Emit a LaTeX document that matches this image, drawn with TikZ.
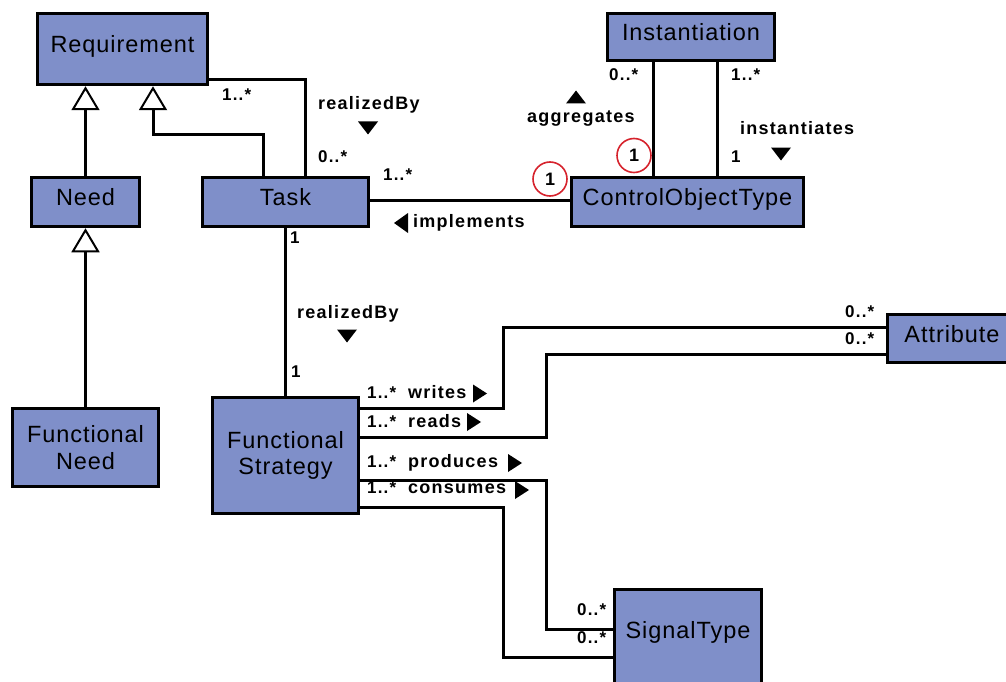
\documentclass[tikz,border=0pt]{standalone}
\usepackage{fontspec}
\setmainfont{Liberation Sans}
\newfontfamily\boxfont[LetterSpace=4]{Liberation Sans}
\newfontfamily\labfont[LetterSpace=7]{Liberation Sans}
\usetikzlibrary{arrows.meta}
\definecolor{classfill}{RGB}{127,143,201}
\definecolor{markred}{RGB}{214,35,45}
\tikzset{
  cls/.style={draw=black, fill=classfill, line width=3.5pt, inner sep=0pt,
    align=center, font=\boxfont\fontsize{23.5}{26.7}\selectfont},
  one/.style={text height=12pt, text depth=5pt},
  ln/.style={line width=3pt, line join=miter},
  gen/.style={-{Triangle[open, length=24pt, width=28pt, line width=2pt]}},
  lab/.style={anchor=base west, inner sep=0pt,
    font=\labfont\bfseries\fontsize{18}{20}\selectfont},
  mult/.style={anchor=base west, inner sep=0pt,
    font=\labfont\bfseries\fontsize{17}{19}\selectfont},
  ring/.style={circle, draw=markred, line width=1.6pt, minimum size=34pt,
    inner sep=0pt, font=\labfont\bfseries\fontsize{18}{20}\selectfont},
  mdown/.pic={\fill (-10,-6.5) -- (10,-6.5) -- (0,6.5) -- cycle;},
  mup/.pic={\fill (-10,6.5) -- (10,6.5) -- (0,-6.5) -- cycle;},
  mright/.pic={\fill (-7,-9) -- (-7,9) -- (7,0) -- cycle;},
  mleft/.pic={\fill (7,-10) -- (7,10) -- (-7,0) -- cycle;},
}
\begin{document}
\begin{tikzpicture}[x=1pt, y=-1pt]
\useasboundingbox (0,0) rectangle (1006,682);
\clip (0,0) rectangle (1006,682);

% classes
\node[cls, one, minimum width=170pt, minimum height=71pt] (req) at (122.5,49) {Requirement};
\node[cls, one, minimum width=108pt, minimum height=49pt] (need) at (85.5,202) {Need};
\node[cls, one, minimum width=166pt, minimum height=49pt] (task) at (285.5,202) {Task};
\node[cls, minimum width=146pt, minimum height=78pt] (fn) at (85.5,447.5) {Functional\\Need};
\node[cls, one, minimum width=167pt, minimum height=47pt] (inst) at (691,37) {Instantiation};
\node[cls, one, minimum width=232pt, minimum height=49pt] (cot) at (687.5,202) {ControlObjectType};
\node[cls, minimum width=146pt, minimum height=116pt] (fs) at (285.5,455.5) {Functional\\Strategy};
\node[cls, one, minimum width=129pt, minimum height=48pt] (attr) at (952,338.5) {Attribute};
\node[cls, anchor=north, minimum width=147pt, minimum height=140pt] (sig) at (688,587.5) {};
\node[one, inner sep=0pt, font=\boxfont\fontsize{23.5}{26.7}\selectfont] (sigtext) at (688,634.5) {SignalType};

% generalizations
\draw[ln, gen] (need.north) -- (need.north |- req.south);
\draw[ln, gen] (fn.north) -- (need.south);
\draw[ln, gen] (task.north -| 263,0) -- ++(0,-41) -| (req.south -| 153,0);

% associations
\draw[ln] (req.east |- 0,80) -| (task.north -| 305,0);
\draw[ln] (task.east |- 0,200) -- (cot.west |- 0,200);
\draw[ln] (inst.south -| 653,0) -- (cot.north -| 653,0);
\draw[ln] (inst.south -| 717,0) -- (cot.north -| 717,0);
\draw[ln] (task.south) -- (fs.north);
\draw[ln] (fs.east |- 0,408) -- (503,408) |- (attr.west |- 0,327);
\draw[ln] (fs.east |- 0,437) -- (546,437) |- (attr.west |- 0,354);
\draw[ln] (fs.east |- 0,480) -- (546,480) |- (sig.west |- 0,629);
\draw[ln] (fs.east |- 0,507) -- (503,507) |- (sig.west |- 0,657);

% Requirement -- Task
\node[mult] (m1) at (222,101) {1..*};
\node[lab] (rb1) at (318,110) {realizedBy};
\pic at (368,128) {mdown};
\node[mult] (m2) at (318,162) {0..*};

% Task -- ControlObjectType
\node[mult] (m3) at (383,180) {1..*};
\node[ring] (r1) at (550,179) {1};
\pic at (401,223) {mleft};
\node[lab] (impl) at (413,227) {implements};

% Instantiation -- ControlObjectType
\node[mult] (m4) at (609,81) {0..*};
\pic at (576,97) {mup};
\node[lab] (aggr) at (527,123) {aggregates};
\node[ring] (r2) at (634,155.5) {1};
\node[mult] (m5) at (731,81) {1..*};
\node[lab] (inst2) at (740,135) {instantiates};
\node[mult] (m6) at (731,162) {1};
\pic at (781,154) {mdown};

% Task -- Functional Strategy
\node[mult] (m7) at (290,243) {1};
\node[lab] (rb2) at (297,318) {realizedBy};
\pic at (347,336) {mdown};
\node[mult] (m8) at (291,377) {1};

% Functional Strategy -- Attribute / SignalType
\node[mult] (m9) at (367,398) {1..*};
\node[lab] (wr) at (408,398) {writes};
\pic at (480,393.5) {mright};
\node[mult] (m10) at (367,427) {1..*};
\node[lab] (rd) at (408,427) {reads};
\pic at (474,422) {mright};
\node[mult] (m11) at (367,467) {1..*};
\node[lab] (pr) at (408,467) {produces};
\pic at (515,463) {mright};
\node[mult] (m12) at (367,493) {1..*};
\node[lab] (cs) at (408,493) {consumes};
\pic at (522,490) {mright};

\node[mult] (m13) at (845,317) {0..*};
\node[mult] (m14) at (845,344) {0..*};
\node[mult] (m15) at (577,615) {0..*};
\node[mult] (m16) at (577,643) {0..*};
\end{tikzpicture}
\end{document}
